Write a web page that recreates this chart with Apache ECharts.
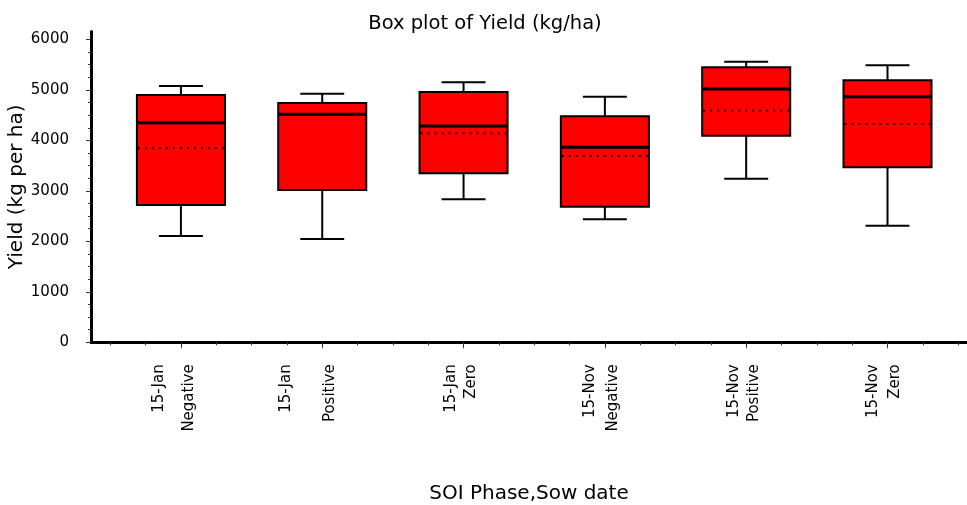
<!DOCTYPE html>
<html>
<head>
<meta charset="utf-8">
<script src="https://cdn.jsdelivr.net/npm/echarts@6/dist/echarts.min.js"></script>
<style>
html,body{margin:0;padding:0;background:#fff;}
#chart{width:967px;height:505px;}
</style>
</head>
<body>
<div id="chart"></div>
<script>
// ---- data ----
const sowDates = ['15-Jan', '15-Jan', '15-Jan', '15-Nov', '15-Nov', '15-Nov'];
const soiPhases = ['Negative', 'Positive', 'Zero', 'Negative', 'Positive', 'Zero'];
const whiskerLow = [2106, 2047, 2833, 2437, 3242, 2310];
const quartile1 = [2720, 3018, 3349, 2687, 4094, 3467];
const medians = [4351, 4517, 4286, 3864, 5019, 4867];
const quartile3 = [4900, 4741, 4960, 4478, 5449, 5191];
const whiskerHigh = [5078, 4926, 5152, 4867, 5560, 5489];
const means = [3844, 4517, 4141, 3691, 4589, 4325];
const yTickValues = [0, 1000, 2000, 3000, 4000, 5000, 6000];

// ---- layout / styling ----
const FONT = 'DejaVu Sans';
const BOX_W = 0.623;   // in category units
const CAP_W = 0.311;
const catPositions = sowDates.map((_, i) => i + 1);
const xMinorTicks = [];
for (let v = 0.5; v <= 6.5001; v += 0.25) {
  if (Math.abs(v - Math.round(v)) > 1e-6) xMinorTicks.push(+v.toFixed(2));
}
const yMinorTicks = [];
for (let v = 250; v < 6000; v += 250) {
  if (v % 1000 !== 0) yMinorTicks.push(v);
}
const line2Height = [43, 72, 25, 29, 25, 28];
const rich = { a: { fontFamily: FONT, fontSize: 15, color: '#000', lineHeight: 16 } };
line2Height.forEach((h, i) => {
  rich['b' + i] = { fontFamily: FONT, fontSize: 15, color: '#000', lineHeight: h };
});

const boxData = catPositions.map((x, i) => [
  x, whiskerLow[i], quartile1[i], medians[i], quartile3[i], whiskerHigh[i], means[i]
]);

function renderBox(params, api) {
  const x = api.value(0);
  const pt = (v) => api.coord([x, v]);
  const halfBox = api.size([BOX_W, 0])[0] / 2;
  const halfCap = api.size([CAP_W, 0])[0] / 2;
  const pLow = pt(api.value(1));
  const pQ1 = pt(api.value(2));
  const pMed = pt(api.value(3));
  const pQ3 = pt(api.value(4));
  const pHigh = pt(api.value(5));
  const pMean = pt(api.value(6));
  const cx = pLow[0];
  const lineStyle = { stroke: '#000', lineWidth: 2 };
  return {
    type: 'group',
    children: [
      { type: 'line', shape: { x1: cx, y1: pLow[1], x2: cx, y2: pQ1[1] }, style: lineStyle },
      { type: 'line', shape: { x1: cx, y1: pQ3[1], x2: cx, y2: pHigh[1] }, style: lineStyle },
      { type: 'line', shape: { x1: cx - halfCap, y1: pLow[1], x2: cx + halfCap, y2: pLow[1] }, style: lineStyle },
      { type: 'line', shape: { x1: cx - halfCap, y1: pHigh[1], x2: cx + halfCap, y2: pHigh[1] }, style: lineStyle },
      { type: 'rect', shape: { x: cx - halfBox, y: pQ3[1], width: halfBox * 2, height: pQ1[1] - pQ3[1] },
        style: { fill: '#ff0000', stroke: '#000', lineWidth: 2 } },
      { type: 'line', shape: { x1: cx - halfBox + 1, y1: pMean[1], x2: cx + halfBox - 1, y2: pMean[1] },
        style: { stroke: '#200000', lineWidth: 2, lineDash: [2, 5] } },
      { type: 'line', shape: { x1: cx - halfBox, y1: pMed[1], x2: cx + halfBox, y2: pMed[1] },
        style: { stroke: '#000', lineWidth: 3 } }
    ]
  };
}

const X_MIN = 0.3637, X_MAX = 6.5625;
const Y_MIN = 0, Y_MAX = 6160;

const chart = echarts.init(document.getElementById('chart'), null, { renderer: 'canvas' });
chart.setOption({
  animation: false,
  backgroundColor: '#ffffff',
  title: {
    text: 'Box plot of Yield (kg/ha)',
    left: 480,
    textAlign: 'center',
    top: 9,
    textStyle: { fontFamily: FONT, fontSize: 19.5, fontWeight: 'normal', color: '#000', lineHeight: 20 }
  },
  grid: { left: 91, right: 0, top: 31.4, bottom: 162.7, containLabel: false, outerBoundsMode: 'none' },
  xAxis: [
    {
      type: 'value', min: X_MIN, max: X_MAX, position: 'bottom',
      name: 'SOI Phase,Sow date', nameLocation: 'middle', nameGap: 141, nameMoveOverlap: false,
      nameTextStyle: { fontFamily: FONT, fontSize: 20, color: '#000' },
      axisLine: { show: true, onZero: false, lineStyle: { color: '#000', width: 3 } },
      axisTick: { show: true, customValues: xMinorTicks, length: 3, lineStyle: { color: '#333', width: 1 } },
      axisLabel: {
        show: true, customValues: catPositions, rotate: 90, margin: 22,
        fontFamily: FONT, fontSize: 15, color: '#000',
        formatter: function (value) {
          const i = Math.round(value) - 1;
          if (i < 0 || i >= sowDates.length) return '';
          return '{a|' + sowDates[i] + '}\n{b' + i + '|' + soiPhases[i] + '}';
        },
        rich: rich
      },
      splitLine: { show: false }
    },
    {
      type: 'value', min: X_MIN, max: X_MAX, position: 'bottom',
      axisLine: { show: false, onZero: false },
      axisTick: { show: true, customValues: catPositions, length: 6, lineStyle: { color: '#333', width: 1 } },
      axisLabel: { show: false },
      splitLine: { show: false }
    }
  ],
  yAxis: [
    {
      type: 'value', min: Y_MIN, max: Y_MAX, position: 'left',
      name: 'Yield (kg per ha)', nameLocation: 'middle', nameGap: 64, nameMoveOverlap: false,
      nameTextStyle: { fontFamily: FONT, fontSize: 20, color: '#000' },
      axisLine: { show: true, onZero: false, lineStyle: { color: '#000', width: 3 } },
      axisTick: { show: true, customValues: yTickValues, length: 5, lineStyle: { color: '#333', width: 1 } },
      axisLabel: {
        show: true, customValues: yTickValues, margin: 22, fontFamily: FONT, fontSize: 15, color: '#000',
        formatter: function (v) { return String(v); }
      },
      splitLine: { show: false }
    },
    {
      type: 'value', min: Y_MIN, max: Y_MAX, position: 'left',
      axisLine: { show: false, onZero: false },
      axisTick: { show: true, customValues: yMinorTicks, length: 3, lineStyle: { color: '#333', width: 1 } },
      axisLabel: { show: false },
      splitLine: { show: false }
    }
  ],
  series: [
    {
      type: 'custom',
      xAxisIndex: 0, yAxisIndex: 0,
      renderItem: renderBox,
      encode: { x: 0, y: [1, 2, 3, 4, 5, 6] },
      data: boxData,
      clip: false
    }
  ]
});
</script>
</body>
</html>
